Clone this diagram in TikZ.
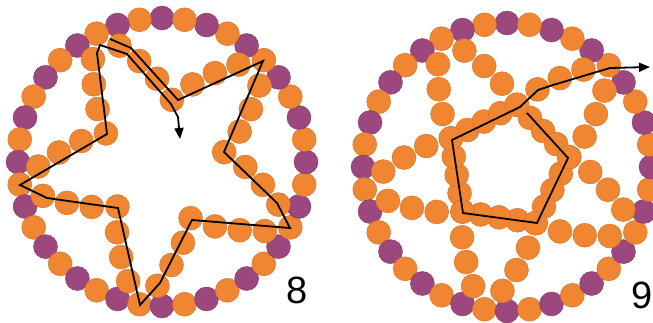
\documentclass[tikz,border=0pt]{standalone}
\usepackage{fontspec}
\setmainfont{Liberation Sans}
\usetikzlibrary{calc,arrows.meta}
\definecolor{beadO}{RGB}{240,134,50}
\definecolor{beadOd}{RGB}{212,112,38}
\definecolor{beadP}{RGB}{156,72,127}
\definecolor{beadPd}{RGB}{128,56,103}

% ring of 40 alternating beads: #1 prefix, #2 cx, #3 cy (image coordinates)
\newcommand\beadring[3]{%
  \draw[link] (#2,#3) circle[radius=144];
  \foreach \k in {0,...,39}{%
    \pgfmathsetmacro\rang{90+9*\k}%
    \pgfmathtruncatemacro\kodd{mod(\k,2)}%
    \ifnum\kodd=0
      \node[pbead] (#1r\k) at ({#2+144*cos(\rang)},{#3-144*sin(\rang)}) {};
    \else
      \node[obead] (#1r\k) at ({#2+144*cos(\rang)},{#3-144*sin(\rang)}) {};
    \fi
  }%
}
% five-pointed star of beads
\newcommand\beadstar[3]{%
  \foreach \j in {0,...,4}{%
    \foreach \s [count=\sc] in {-1,1}{%
      \pgfmathsetmacro\tang{117-72*\j}%
      \pgfmathsetmacro\iang{\tang+36*\s}%
      \pgfmathsetmacro\tpx{#2+144*cos(\tang)}%
      \pgfmathsetmacro\tpy{#3-144*sin(\tang)}%
      \pgfmathsetmacro\ipx{#2+63*cos(\iang)}%
      \pgfmathsetmacro\ipy{#3-63*sin(\iang)}%
      \pgfmathsetmacro\ddx{(\ipx)-(\tpx)}%
      \pgfmathsetmacro\ddy{(\ipy)-(\tpy)}%
      \pgfmathsetmacro\elen{veclen(\ddx,\ddy)}%
      \pgfmathsetmacro\nnx{0-(\ddy)/(\elen)}%
      \pgfmathsetmacro\nny{(\ddx)/(\elen)}%
      \pgfmathsetmacro\edot{(\nnx)*(((\tpx)+(\ipx))/2-#2)+(\nny)*(((\tpy)+(\ipy))/2-#3)}%
      \pgfmathsetmacro\sgn{ifthenelse(\edot>0,1,-1)}%
      \foreach \t [count=\c] in {0.25,0.5,0.75}{%
        \pgfmathsetmacro\boff{7.5*(\sgn)*(1-3.2*(\t-0.5)^2)}%
        \node[obead] (#1e\j\sc\c) at ({(\tpx)+\t*(\ddx)+(\boff)*(\nnx)},{(\tpy)+\t*(\ddy)+(\boff)*(\nny)}) {};
      }%
    }%
  }%
  \foreach \j in {0,...,4}{%
    \pgfmathsetmacro\iang{81-72*\j}%
    \node[obead] (#1v\j) at ({#2+63*cos(\iang)},{#3-63*sin(\iang)}) {};
  }%
}

\begin{document}
\begin{tikzpicture}[x=1pt,y=-1pt,
  obead/.style={circle,fill=beadO,draw=beadOd,line width=0.4pt,minimum size=24pt,inner sep=0pt},
  pbead/.style={circle,fill=beadP,draw=beadPd,line width=0.4pt,minimum size=24pt,inner sep=0pt},
  link/.style={draw=black,line width=0.9pt},
  trace/.style={draw=black,line width=1.8pt,line join=miter,miter limit=4},
  tip/.style={-{Triangle[length=11pt,width=9pt]}},
  numlabel/.style={font=\fontsize{38}{40}\selectfont,inner sep=0pt,text=black}]
\useasboundingbox (0,0) rectangle (653,322);
\clip (0,0) rectangle (653,322);
\fill[white] (0,0) rectangle (653,322);

% ---------- left panel ----------
\beadring{L}{162}{162}
\beadstar{L}{162}{162}

\coordinate (Lp0) at (110,39);
\coordinate (Lp1) at (131,48);
\coordinate (Lp2) at (178,100);
\coordinate (Lp3) at (263,61);
\coordinate (Lp4) at (224,152);
\coordinate (Lp5) at (277,203);
\coordinate (Lp6) at (290,228);
\coordinate (Lp7) at (192,220);
\coordinate (Lp8) at (160,283);
\coordinate (Lp9) at (140,305);
\coordinate (Lp10) at (118,208);
\coordinate (Lp11) at (47,198);
\coordinate (Lp12) at (20,185);
\coordinate (Lp13) at (107,134);
\coordinate (Lp14) at (97,53);
\coordinate (Lp15) at (100,45);
\coordinate (Lp16) at (127,54);
\coordinate (Lp17) at (171,104);
\coordinate (Lp18) at (178,117);
\coordinate (Lp19) at (180,139);
\draw[trace,tip] (Lp0) -- (Lp1) -- (Lp2) -- (Lp3) -- (Lp4) -- (Lp5) -- (Lp6)
  -- (Lp7) -- (Lp8) -- (Lp9) -- (Lp10) -- (Lp11) -- (Lp12) -- (Lp13) -- (Lp14)
  -- (Lp15) -- (Lp16) -- (Lp17) -- (Lp18) -- (Lp19);

\node[numlabel] (lab8) at (297,290) {8};

% ---------- right panel ----------
\beadring{R}{507}{167}
\beadstar{R}{507}{167}
\foreach \j in {0,...,4}{%
  \pgfmathsetmacro\aa{81-72*\j}%
  \pgfmathsetmacro\ab{9-72*\j}%
  \foreach \t [count=\c] in {0.25,0.5,0.75}{%
    \node[obead] (Rp\j\c) at ({507+63*((1-\t)*cos(\aa)+\t*cos(\ab))},{167-63*((1-\t)*sin(\aa)+\t*sin(\ab))}) {};
  }%
}
\foreach \j in {0,...,4}{%
  \pgfmathsetmacro\iang{81-72*\j}%
  \node[obead] (Rw\j) at ({507+63*cos(\iang)},{167-63*sin(\iang)}) {};
}

\coordinate (Rq0) at (527,113);
\coordinate (Rq1) at (568,158);
\coordinate (Rq2) at (537,223);
\coordinate (Rq3) at (463,213);
\coordinate (Rq4) at (452,140);
\coordinate (Rq5) at (520,107);
\coordinate (Rq6) at (538,90);
\coordinate (Rq7) at (553,85);
\coordinate (Rq8) at (610,68);
\coordinate (Rq9) at (650,67);
\draw[trace,tip] (Rq0) -- (Rq1) -- (Rq2) -- (Rq3) -- (Rq4) -- (Rq5) -- (Rq6)
  -- (Rq7) -- (Rq8) -- (Rq9);

\node[numlabel] (lab9) at (642,295) {9};
\end{tikzpicture}
\end{document}
